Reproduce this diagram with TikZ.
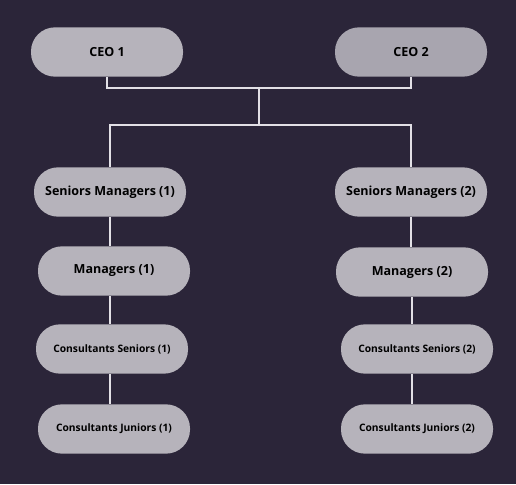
\documentclass[tikz,border=0pt]{standalone}
\usepackage{fontspec}
\setmainfont{Open Sans}
\usepackage{xcolor}
\usetikzlibrary{positioning}
\definecolor{mback}{HTML}{2B2539}
\definecolor{mbox}{HTML}{B6B3BB}
\definecolor{mboxdark}{HTML}{A8A5AF}
\definecolor{mline}{HTML}{E2E0E6}

\begin{document}
\begin{tikzpicture}[x=0.75pt, y=-0.75pt,
  every node/.style={rectangle, rounded corners=18pt, fill=mbox, text=black,
    minimum width=114pt, minimum height=37pt, inner sep=0pt,
    font=\bfseries\fontsize{9.4}{11}\selectfont},
  small/.style={font=\bfseries\fontsize{7.7}{9}\selectfont},
  link/.style={draw=mline, line width=0.8pt}]
% fundo
\fill[mback] (0,0) rectangle (516,484);
% Diretoria (em cima)
\node (ceo1) at (107,52) {CEO 1};
\node[fill=mboxdark] (ceo2) at (411,52) {CEO 2};
% Ramo 1 (esquerda)
\node (sm1) at (110,192) {Seniors Managers (1)};
\node (m1)  at (114,271) {Managers (1)};
\node[small] (cs1) at (112,349) {Consultants Seniors (1)};
\node[small] (cj1) at (114,429) {Consultants Juniors (1)};
% Ramo 2 (direita)
\node (sm2) at (411,192) {Seniors Managers (2)};
\node (m2)  at (412,272) {Managers (2)};
\node[small] (cs2) at (417,349) {Consultants Seniors (2)};
\node[small] (cj2) at (417,429) {Consultants Juniors (2)};
% Junções
\coordinate (j1) at (259,88);
\coordinate (j2) at (259,125);
% Ligações
\draw[link] (ceo1.south) |- (j1) -| (ceo2.south);
\draw[link] (j1) -- (j2);
\draw[link] (sm1.north) |- (j2) -| (sm2.north);
\draw[link] (sm1.south) -- (sm1.south |- m1.north);
\draw[link] (m1.south -| sm1) -- (cs1.north -| sm1);
\draw[link] (cs1.south -| sm1) -- (cj1.north -| sm1);
\draw[link] (sm2.south) -- (sm2.south |- m2.north);
\draw[link] (m2.south) -- (m2.south |- cs2.north);
\draw[link] (cs2.south -| m2) -- (cj2.north -| m2);
\end{tikzpicture}
\end{document}
